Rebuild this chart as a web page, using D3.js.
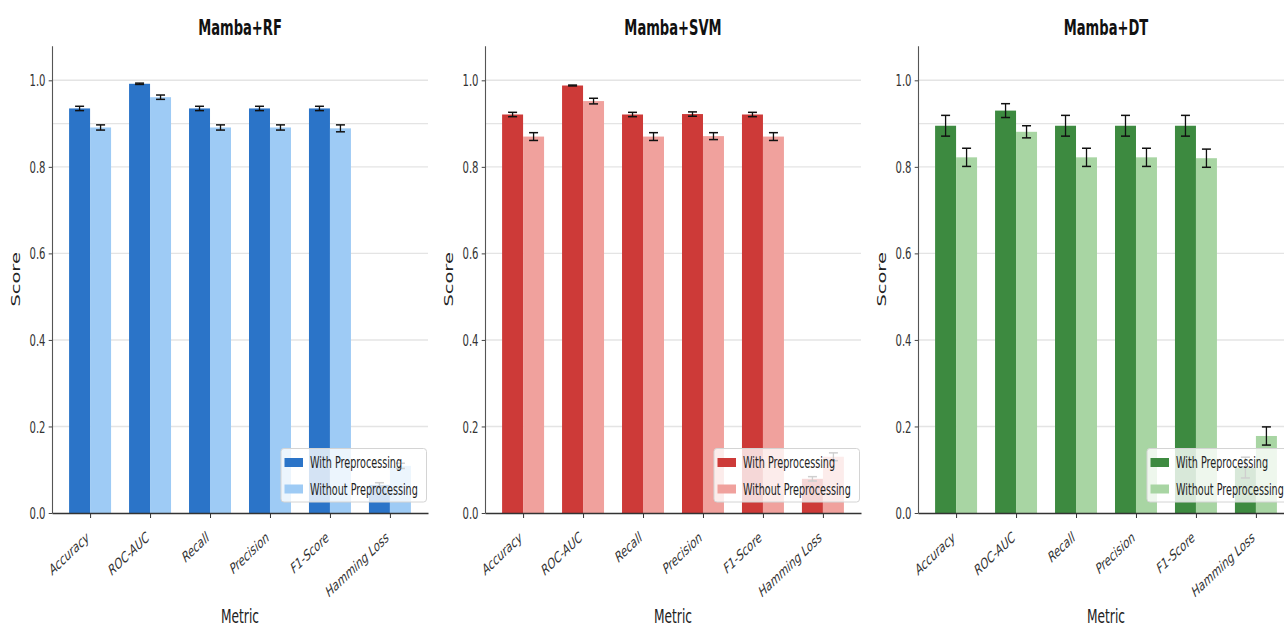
<!DOCTYPE html>
<html>
<head>
<meta charset="utf-8">
<script src="https://cdn.jsdelivr.net/npm/d3@7"></script>
<style>
  body { margin: 0; background: #fff; overflow: hidden; }
  svg { display: block; font-family: "DejaVu Sans", sans-serif; }
</style>
</head>
<body>
<svg id="chart" width="1284" height="628"></svg>
<script>
// Metric names on the x axis
const metrics = ["Accuracy", "ROC-AUC", "Recall", "Precision", "F1-Score", "Hamming Loss"];
const models = ["Mamba+RF", "Mamba+SVM", "Mamba+DT"];
const seriesNames = ["With Preprocessing", "Without Preprocessing"];

// Mean scores and standard deviations per model
const rfWith      = [0.935, 0.992, 0.935, 0.935, 0.935, 0.065];
const rfWithErr   = [0.005, 0.0015, 0.005, 0.005, 0.005, 0.005];
const rfWithout   = [0.891, 0.961, 0.891, 0.891, 0.889, 0.109];
const rfWithoutErr= [0.006, 0.005, 0.006, 0.006, 0.008, 0.006];

const svmWith      = [0.921, 0.988, 0.921, 0.922, 0.921, 0.079];
const svmWithErr   = [0.005, 0.001, 0.005, 0.005, 0.005, 0.005];
const svmWithout   = [0.870, 0.952, 0.870, 0.871, 0.870, 0.130];
const svmWithoutErr= [0.009, 0.0065, 0.009, 0.008, 0.009, 0.009];

const dtWith      = [0.895, 0.930, 0.895, 0.895, 0.895, 0.105];
const dtWithErr   = [0.024, 0.016, 0.024, 0.024, 0.024, 0.024];
const dtWithout   = [0.822, 0.881, 0.822, 0.822, 0.820, 0.178];
const dtWithoutErr= [0.021, 0.014, 0.021, 0.021, 0.021, 0.021];

const yTicks = [0.0, 0.2, 0.4, 0.6, 0.8, 1.0];
const gridValues = [0.2, 0.4, 0.6, 0.8, 0.9, 1.0];

const palette = [
  ["#2b74c8", "#9ecbf5"],
  ["#cd3a38", "#f0a19d"],
  ["#3d8a40", "#a8d5a3"]
];

const panels = [
  { title: models[0], series: [rfWith, rfWithout],   errs: [rfWithErr, rfWithoutErr] },
  { title: models[1], series: [svmWith, svmWithout], errs: [svmWithErr, svmWithoutErr] },
  { title: models[2], series: [dtWith, dtWithout],   errs: [dtWithErr, dtWithoutErr] }
];

// Figure geometry (glyphs are horizontally condensed by sx)
const sx = 0.63;
const panelLeft = 52, panelStep = 433, panelW = 376;
const plotTop = 45.7, plotBottom = 513;
const barW = 0.35;

const svg = d3.select("#chart");

function label(g, x, y, str, opts) {
  const o = Object.assign({ size: 15, weight: "normal", anchor: "middle", rot: 0, fill: "#222" }, opts || {});
  return g.append("text")
    .attr("transform", `translate(${x},${y}) scale(${sx},1) rotate(${o.rot})`)
    .attr("text-anchor", o.anchor)
    .attr("font-size", o.size)
    .attr("font-weight", o.weight)
    .attr("fill", o.fill)
    .text(str);
}

panels.forEach((p, pi) => {
  const g = svg.append("g").attr("transform", `translate(${panelLeft + pi * panelStep},0)`);
  const x = d3.scaleLinear().domain([-0.635, 5.635]).range([0, panelW]);
  const y = d3.scaleLinear().domain([0, 1.08]).range([plotBottom, plotTop]);
  const cols = palette[pi];

  // horizontal grid
  g.append("g").selectAll("line").data(gridValues).join("line")
    .attr("x1", 0).attr("x2", panelW)
    .attr("y1", d => y(d)).attr("y2", d => y(d))
    .attr("stroke", "#e4e4e4").attr("stroke-width", 1.4);

  // bars
  p.series.forEach((vals, si) => {
    const off = si === 0 ? -barW : 0;
    g.append("g").selectAll("rect").data(vals).join("rect")
      .attr("x", (d, j) => x(j + off))
      .attr("width", x(barW) - x(0))
      .attr("y", d => y(d))
      .attr("height", d => y(0) - y(d))
      .attr("fill", cols[si]);
  });

  // error bars
  p.series.forEach((vals, si) => {
    const errs = p.errs[si];
    const off = si === 0 ? -barW / 2 : barW / 2;
    const eg = g.append("g").attr("stroke", "#111");
    vals.forEach((v, j) => {
      const cx = x(j + off);
      const lo = y(v - errs[j]), hi = y(v + errs[j]);
      eg.append("line").attr("x1", cx).attr("x2", cx).attr("y1", lo).attr("y2", hi).attr("stroke-width", 1.3);
      eg.append("line").attr("x1", cx - 4.5).attr("x2", cx + 4.5).attr("y1", lo).attr("y2", lo).attr("stroke-width", 1.5);
      eg.append("line").attr("x1", cx - 4.5).attr("x2", cx + 4.5).attr("y1", hi).attr("y2", hi).attr("stroke-width", 1.5);
    });
  });

  // y axis
  const ya = g.append("g").call(
    d3.axisLeft(y).tickValues(yTicks).tickFormat(d3.format(".1f")).tickSize(3.3).tickSizeOuter(0)
  );
  ya.select(".domain").attr("stroke", "#555").attr("stroke-width", 1.1);
  ya.selectAll(".tick line").attr("stroke", "#444");
  ya.selectAll(".tick text")
    .attr("x", null).attr("dy", "0.35em")
    .attr("transform", `translate(-6.5,0) scale(${sx},1)`)
    .attr("font-size", 16).attr("font-family", "DejaVu Sans").attr("fill", "#333");

  // x axis
  const xa = g.append("g").attr("transform", `translate(0,${plotBottom})`).call(
    d3.axisBottom(x).tickValues(d3.range(metrics.length)).tickFormat(i => metrics[i]).tickSize(5).tickSizeOuter(0)
  );
  xa.select(".domain").attr("stroke", "#333").attr("stroke-width", 1.5);
  xa.selectAll(".tick line").attr("stroke", "#333");
  xa.selectAll(".tick text")
    .attr("y", null).attr("dy", null)
    .attr("text-anchor", "end")
    .attr("transform", `translate(-1,27) scale(${sx},1) rotate(-31)`)
    .attr("font-size", 15.3).attr("font-family", "DejaVu Sans").attr("fill", "#333");

  // titles and axis labels
  label(g, panelW / 2, 34.5, p.title, { size: 20.8, weight: "bold", fill: "#111" });
  label(g, panelW / 2, 623, "Metric", { size: 19.4, fill: "#222" });
  label(g, -32, (plotTop + plotBottom) / 2, "Score", { size: 19.4, rot: -90, fill: "#222" });

  // legend, lower right
  const lx = panelW - 147, ly = 448.5;
  const lg = g.append("g").attr("transform", `translate(${lx},${ly})`);
  lg.append("rect").attr("width", 145.5).attr("height", 53.5).attr("rx", 3)
    .attr("fill", "#fff").attr("fill-opacity", 0.8).attr("stroke", "#d4d4d4").attr("stroke-width", 1);
  seriesNames.forEach((name, si) => {
    lg.append("rect").attr("x", 3.5).attr("y", 9.5 + si * 26.5).attr("width", 18.5).attr("height", 9)
      .attr("fill", cols[si]);
    label(lg, 29, 19.5 + si * 26.5, name, { size: 15.3, anchor: "start", fill: "#222" });
  });
});
</script>
</body>
</html>
